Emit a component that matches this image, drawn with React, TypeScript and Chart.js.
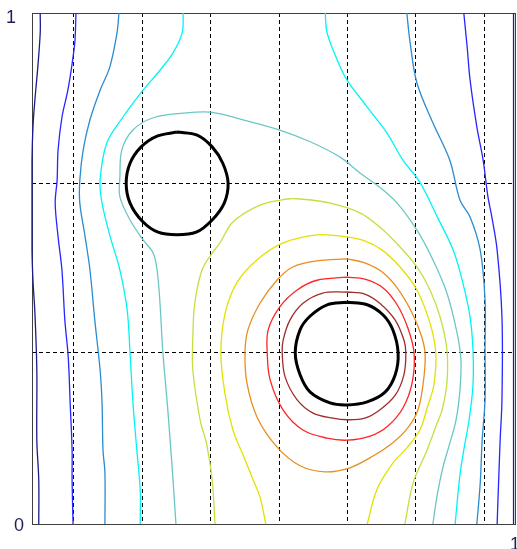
import React, { useEffect, useRef } from 'react';
import { Chart, registerables } from 'chart.js';

Chart.register(...registerables);

type P = [number, number];

// ---- contour lines (x, y in 0..1 data units) ----
const navyLeft: P[] = [[0.017, 1], [0.017, 0.961], [0.012, 0.894], [0.006, 0.83], [0.002, 0.777], [0, 0.712], [0, 0.634], [0, 0.536], [0.002, 0.477], [0.006, 0.413], [0.01, 0.301], [0.01, 0.164], [0.014, 0.086], [0.014, 0]];
const blueLeft: P[] = [[0.091, 1], [0.089, 0.947], [0.085, 0.914], [0.079, 0.875], [0.073, 0.843], [0.062, 0.796], [0.054, 0.732], [0.052, 0.673], [0.048, 0.628], [0.054, 0.562], [0.062, 0.497], [0.068, 0.399], [0.075, 0.327], [0.079, 0.237], [0.083, 0.145], [0.083, 0.086], [0.085, 0]];
const steelLeft: P[] = [[0.18, 1], [0.176, 0.961], [0.161, 0.894], [0.141, 0.849], [0.12, 0.791], [0.106, 0.732], [0.099, 0.673], [0.099, 0.628], [0.11, 0.562], [0.12, 0.497], [0.13, 0.399], [0.141, 0.301], [0.145, 0.237], [0.147, 0.145], [0.151, 0.1], [0.151, 0]];
const cyanLeft: P[] = [[0.313, 1], [0.311, 0.961], [0.292, 0.922], [0.265, 0.888], [0.23, 0.849], [0.188, 0.796], [0.155, 0.746], [0.141, 0.673], [0.145, 0.628], [0.162, 0.562], [0.182, 0.497], [0.197, 0.419], [0.203, 0.335], [0.209, 0.237], [0.217, 0.145], [0.224, 0.067], [0.224, 0]];
const tealLine: P[] = [[0.298, 0], [0.292, 0.086], [0.286, 0.164], [0.28, 0.237], [0.271, 0.335], [0.265, 0.432], [0.259, 0.497], [0.251, 0.53], [0.23, 0.556], [0.203, 0.595], [0.182, 0.64], [0.182, 0.679], [0.186, 0.732], [0.209, 0.771], [0.251, 0.795], [0.313, 0.804], [0.369, 0.806], [0.437, 0.791], [0.513, 0.771], [0.576, 0.748], [0.638, 0.718], [0.679, 0.687], [0.72, 0.659], [0.756, 0.628], [0.797, 0.575], [0.83, 0.517], [0.859, 0.452], [0.88, 0.374], [0.888, 0.321], [0.886, 0.262], [0.878, 0.204], [0.861, 0.145], [0.851, 0.112], [0.839, 0.057], [0.83, 0]];
const yellowGreenLine: P[] = [[0.379, 0], [0.373, 0.086], [0.362, 0.155], [0.348, 0.204], [0.333, 0.301], [0.333, 0.366], [0.337, 0.432], [0.352, 0.497], [0.373, 0.53], [0.389, 0.55], [0.416, 0.591], [0.472, 0.624], [0.528, 0.636], [0.555, 0.636], [0.617, 0.628], [0.679, 0.609], [0.72, 0.581], [0.762, 0.542], [0.797, 0.503], [0.824, 0.458], [0.845, 0.405], [0.859, 0.341], [0.859, 0.276], [0.849, 0.223], [0.839, 0.198], [0.818, 0.145], [0.789, 0.08], [0.772, 0]];
const yellowLine: P[] = [[0.484, 0], [0.472, 0.053], [0.458, 0.086], [0.437, 0.135], [0.416, 0.184], [0.4, 0.252], [0.391, 0.335], [0.4, 0.413], [0.424, 0.472], [0.466, 0.517], [0.52, 0.55], [0.59, 0.566], [0.652, 0.562], [0.689, 0.554], [0.725, 0.536], [0.762, 0.503], [0.797, 0.458], [0.824, 0.393], [0.836, 0.335], [0.832, 0.272], [0.82, 0.233], [0.803, 0.184], [0.776, 0.149], [0.747, 0.119], [0.714, 0.067], [0.694, 0]];
const orangeLoop: P[] = [[0.652, 0.519], [0.689, 0.511], [0.725, 0.493], [0.756, 0.462], [0.787, 0.413], [0.807, 0.366], [0.814, 0.331], [0.81, 0.276], [0.799, 0.223], [0.778, 0.188], [0.747, 0.159], [0.706, 0.133], [0.658, 0.11], [0.607, 0.102], [0.555, 0.114], [0.507, 0.151], [0.466, 0.209], [0.445, 0.276], [0.441, 0.335], [0.447, 0.38], [0.472, 0.432], [0.507, 0.477], [0.54, 0.503], [0.59, 0.515], [0.652, 0.519]];
const redLoop: P[] = [[0.652, 0.483], [0.689, 0.479], [0.727, 0.462], [0.756, 0.429], [0.778, 0.384], [0.791, 0.335], [0.787, 0.276], [0.768, 0.227], [0.737, 0.192], [0.7, 0.172], [0.652, 0.164], [0.611, 0.168], [0.561, 0.184], [0.52, 0.223], [0.493, 0.282], [0.487, 0.335], [0.489, 0.38], [0.513, 0.425], [0.549, 0.458], [0.59, 0.477], [0.652, 0.483]];
const darkRedLoop: P[] = [[0.652, 0.454], [0.689, 0.45], [0.72, 0.432], [0.752, 0.399], [0.77, 0.36], [0.774, 0.335], [0.77, 0.292], [0.752, 0.252], [0.72, 0.223], [0.689, 0.207], [0.652, 0.204], [0.623, 0.207], [0.582, 0.217], [0.549, 0.243], [0.524, 0.288], [0.518, 0.335], [0.52, 0.36], [0.534, 0.399], [0.561, 0.432], [0.602, 0.452], [0.652, 0.454]];
const circleRight: P[] = [[0.652, 0.434], [0.694, 0.429], [0.727, 0.409], [0.747, 0.38], [0.758, 0.335], [0.752, 0.292], [0.731, 0.258], [0.694, 0.239], [0.652, 0.233], [0.617, 0.237], [0.576, 0.258], [0.555, 0.292], [0.545, 0.335], [0.555, 0.38], [0.576, 0.407], [0.611, 0.429], [0.652, 0.434]];
const circleLeft: P[] = [[0.3, 0.767], [0.342, 0.761], [0.373, 0.738], [0.395, 0.706], [0.406, 0.667], [0.398, 0.628], [0.373, 0.595], [0.34, 0.571], [0.3, 0.566], [0.261, 0.571], [0.228, 0.593], [0.203, 0.628], [0.195, 0.667], [0.203, 0.706], [0.226, 0.738], [0.259, 0.759], [0.3, 0.767]];
const cyanRight: P[] = [[0.607, 1], [0.611, 0.961], [0.632, 0.908], [0.652, 0.869], [0.694, 0.816], [0.735, 0.765], [0.768, 0.712], [0.803, 0.669], [0.839, 0.601], [0.872, 0.536], [0.892, 0.472], [0.907, 0.405], [0.913, 0.341], [0.913, 0.272], [0.905, 0.204], [0.894, 0.145], [0.886, 0.096], [0.876, 0]];
const steelRight: P[] = [[0.776, 1], [0.783, 0.941], [0.797, 0.863], [0.83, 0.785], [0.865, 0.712], [0.886, 0.634], [0.907, 0.601], [0.928, 0.536], [0.938, 0.438], [0.938, 0.341], [0.938, 0.243], [0.932, 0.164], [0.928, 0.08], [0.921, 0]];
const blueRight: P[] = [[0.894, 1], [0.901, 0.933], [0.907, 0.869], [0.921, 0.777], [0.934, 0.712], [0.944, 0.64], [0.952, 0.601], [0.963, 0.536], [0.973, 0.405], [0.973, 0.243], [0.969, 0.159], [0.963, 0]];
const navyRight: P[] = [[0.997, 1], [0.997, 0]];

// dashed grid positions and axis labels
const gridX = [0.0855, 0.229, 0.37, 0.512, 0.653, 0.795, 0.936];
const gridY = [0.335, 0.667];
const yLabels = ['0', '1'];
const xLabels = ['1'];

const COL = {
  navy: '#1c1c8a',
  blue: '#2626ff',
  steel: '#2a8cd0',
  cyan: '#00f4f4',
  teal: '#6cc6c6',
  ygreen: '#c2e040',
  yellow: '#e2e200',
  orange: '#e88e1e',
  red: '#ff2424',
  darkred: '#a02c2c',
  black: '#000000',
};

const lines: { data: P[]; color: string; width: number }[] = [
  { data: navyLeft, color: COL.navy, width: 1.3 },
  { data: blueLeft, color: COL.blue, width: 1.3 },
  { data: steelLeft, color: COL.steel, width: 1.3 },
  { data: cyanLeft, color: COL.cyan, width: 1.3 },
  { data: tealLine, color: COL.teal, width: 1.3 },
  { data: yellowGreenLine, color: COL.ygreen, width: 1.3 },
  { data: yellowLine, color: COL.yellow, width: 1.3 },
  { data: orangeLoop, color: COL.orange, width: 1.3 },
  { data: redLoop, color: COL.red, width: 1.3 },
  { data: darkRedLoop, color: COL.darkred, width: 1.3 },
  { data: cyanRight, color: COL.cyan, width: 1.3 },
  { data: steelRight, color: COL.steel, width: 1.3 },
  { data: blueRight, color: COL.blue, width: 1.3 },
  { data: navyRight, color: COL.navy, width: 1.3 },
  { data: circleLeft, color: COL.black, width: 3 },
  { data: circleRight, color: COL.black, width: 3 },
];

const framePlugin = {
  id: 'frameAndLabels',
  beforeDatasetsDraw(chart: any) {
    const { ctx, chartArea: a } = chart;
    ctx.save();
    ctx.strokeStyle = '#404040';
    ctx.lineWidth = 1;
    ctx.strokeRect(Math.round(a.left) + 0.5, Math.round(a.top) + 0.5, Math.round(a.right - a.left), Math.round(a.bottom - a.top));
    ctx.restore();
  },
  afterDraw(chart: any) {
    const { ctx, chartArea: a, scales } = chart;
    const xs = scales.x;
    const ys = scales.y;
    ctx.save();
    ctx.font = '18px "Liberation Sans", Arial, sans-serif';
    ctx.fillStyle = '#1e1e5c';
    ctx.textAlign = 'left';
    ctx.textBaseline = 'alphabetic';
    ctx.fillText(yLabels[1], a.left - 26, ys.getPixelForValue(1) + 10);
    ctx.fillText(yLabels[0], a.left - 18, ys.getPixelForValue(0) + 7);
    ctx.fillText(xLabels[0], xs.getPixelForValue(1) - 5, a.bottom + 26);
    ctx.restore();
  },
};

export default function App() {
  const ref = useRef<HTMLCanvasElement | null>(null);

  useEffect(() => {
    document.body.style.margin = '0';
    document.body.style.overflow = 'hidden';
    const canvas = ref.current;
    if (!canvas) return;
    const chart = new Chart(canvas, {
      type: 'scatter',
      data: {
        datasets: lines.map((l) => ({
          data: l.data.map(([x, y]) => ({ x, y })),
          borderColor: l.color,
          backgroundColor: l.color,
          borderWidth: l.width,
          showLine: true,
          pointRadius: 0,
          pointHoverRadius: 0,
          tension: 0.35,
          fill: false,
          clip: false as any,
        })),
      },
      options: {
        animation: false,
        responsive: false,
        events: [],
        layout: { padding: { left: 32, top: 13, right: 2, bottom: 25 } },
        plugins: { legend: { display: false }, tooltip: { enabled: false } },
        scales: {
          x: {
            type: 'linear',
            min: 0,
            max: 1,
            afterBuildTicks: (s: any) => {
              s.ticks = gridX.map((v) => ({ value: v }));
            },
            grid: { color: '#000000', lineWidth: 1, drawTicks: false },
            border: { display: false, dash: [4, 3] },
            ticks: { display: false },
          },
          y: {
            type: 'linear',
            min: 0,
            max: 1,
            afterBuildTicks: (s: any) => {
              s.ticks = gridY.map((v) => ({ value: v }));
            },
            grid: { color: '#000000', lineWidth: 1, drawTicks: false },
            border: { display: false, dash: [4, 3] },
            ticks: { display: false },
          },
        },
      },
      plugins: [framePlugin],
    });
    return () => chart.destroy();
  }, []);

  return (
    <div style={{ position: 'absolute', left: 0, top: 0, width: 517, height: 549, background: '#ffffff' }}>
      <canvas ref={ref} width={517} height={549} style={{ display: 'block' }} />
    </div>
  );
}
